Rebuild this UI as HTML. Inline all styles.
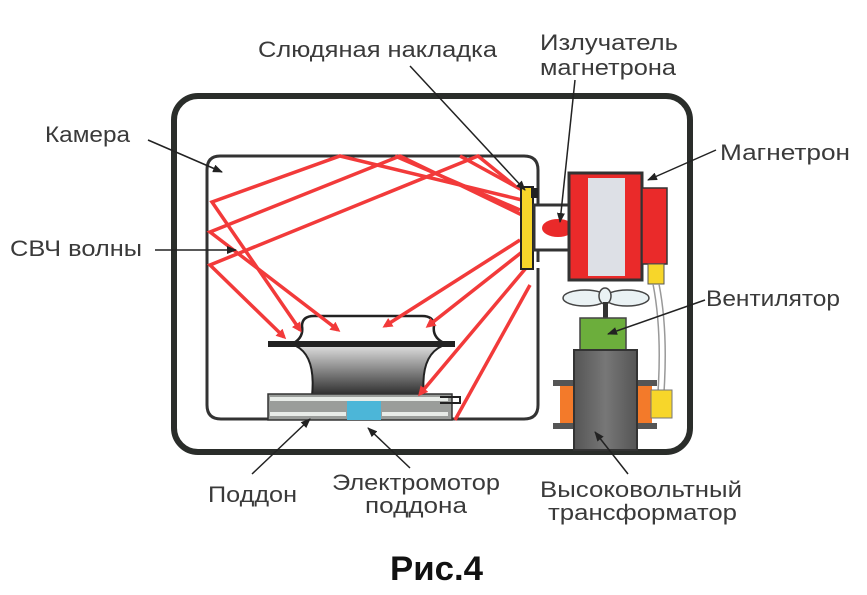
<!DOCTYPE html>
<html><head><meta charset="utf-8"><style>
html,body{margin:0;padding:0;background:#fff;}
svg{display:block}
text{font-family:"Liberation Sans",sans-serif;fill:#3a3a3a;font-size:22px}
</style></head><body>
<svg width="867" height="595" viewBox="0 0 867 595" xmlns="http://www.w3.org/2000/svg">
<defs>
<marker id="ra" markerWidth="10" markerHeight="10" refX="7" refY="5" orient="auto" markerUnits="userSpaceOnUse"><path d="M0,0 L10,5 L0,10 z" fill="#f23a3a"/></marker>
<marker id="ka" markerWidth="10" markerHeight="8" refX="9" refY="4" orient="auto" markerUnits="userSpaceOnUse"><path d="M0,0 L10,4 L0,8 z" fill="#222"/></marker>
<linearGradient id="gb" x1="0" y1="0" x2="0" y2="1"><stop offset="0" stop-color="#dcdcdc"/><stop offset="1" stop-color="#2a2a2a"/></linearGradient>
<linearGradient id="gt" x1="0" y1="0" x2="1" y2="0"><stop offset="0" stop-color="#555"/><stop offset="0.5" stop-color="#777"/><stop offset="1" stop-color="#555"/></linearGradient>
</defs>
<rect x="174" y="96" width="516" height="356" rx="24" fill="none" stroke="#2a2d2a" stroke-width="6"/>
<path d="M538,262 L538,170 Q538,156 524,156 L220,156 Q207,156 207,170 L207,405 Q207,419 221,419 L524,419 Q538,419 538,405 L538,268" fill="none" stroke="#333" stroke-width="3"/>
<!-- turntable -->
<path d="M292,344 Q304,338 302,326 Q302,316 314,316 L422,316 Q434,316 434,326 Q432,338 446,344 Z" fill="#fff" stroke="#222" stroke-width="2.5"/>
<path d="M296,346 Q316,356 312,396 L424,396 Q420,356 442,346 Z" fill="url(#gb)" stroke="#222" stroke-width="2"/>
<rect x="268" y="341" width="187" height="6" fill="#222"/>
<rect x="268" y="394" width="184" height="26" fill="#9a9d9a" stroke="#333" stroke-width="1.5"/>
<rect x="270" y="397" width="178" height="4" fill="#e8ece8"/>
<rect x="270" y="412" width="76" height="4" fill="#e8ece8"/>
<rect x="382" y="412" width="66" height="4" fill="#e8ece8"/>
<rect x="347" y="401" width="34" height="19" fill="#4cb6d8"/>
<path d="M440,397 L460,397 L460,403 L440,403" fill="none" stroke="#222" stroke-width="2"/>
<g stroke="#f23a3a" stroke-width="3.5" fill="none">
<path d="M522,200 L340,156 L212,202 L300,330" marker-end="url(#ra)"/>
<path d="M522,215 L400,156 L210,232 L338,330" marker-end="url(#ra)"/>
<path d="M515,186 L478,156 L210,265 L284,337" marker-end="url(#ra)"/>
<path d="M520,240 L385,326" marker-end="url(#ra)"/>
<path d="M522,252 L428,326" marker-end="url(#ra)"/>
<path d="M526,268 L420,394" marker-end="url(#ra)"/>
<path d="M530,285 L455,420"/>
<path d="M395,156 L520,210"/>
<path d="M460,156 L522,190"/>
</g>
<rect x="521" y="187" width="12" height="82" fill="#f7d62a" stroke="#222" stroke-width="2"/>
<rect x="531" y="188" width="7" height="10" fill="#222"/>
<rect x="534" y="205" width="36" height="45" fill="#fff" stroke="#333" stroke-width="3"/>
<ellipse cx="558" cy="228" rx="16" ry="9" fill="#ea2a2a"/>
<rect x="569" y="173" width="73" height="107" fill="#ea2a2a" stroke="#333" stroke-width="3"/>
<rect x="588" y="178" width="37" height="98" fill="#dde0e6"/>
<rect x="642" y="188" width="25" height="76" fill="#ea2a2a" stroke="#333" stroke-width="1.5"/>
<rect x="648" y="264" width="16" height="20" fill="#f7d62a" stroke="#555" stroke-width="1"/>
<path d="M653,284 Q662,330 658,392 M659,284 Q668,330 664,392" stroke="#999" stroke-width="1.5" fill="none"/>
<ellipse cx="585" cy="298" rx="22" ry="8" fill="#eaf2f4" stroke="#444" stroke-width="1.5"/>
<ellipse cx="627" cy="298" rx="22" ry="8" fill="#eaf2f4" stroke="#444" stroke-width="1.5"/>
<ellipse cx="605" cy="296" rx="6" ry="8" fill="#eaf2f4" stroke="#444" stroke-width="1.5"/>
<rect x="603" y="302" width="5" height="16" fill="#333"/>
<rect x="580" y="318" width="46" height="32" fill="#6cae3c" stroke="#444" stroke-width="1.5"/>
<rect x="553" y="380" width="104" height="6" fill="#555"/>
<rect x="553" y="423" width="104" height="6" fill="#555"/>
<rect x="560" y="386" width="14" height="37" fill="#f37a2a"/>
<rect x="638" y="386" width="14" height="37" fill="#f37a2a"/>
<rect x="574" y="350" width="63" height="100" fill="url(#gt)" stroke="#333" stroke-width="2"/>
<rect x="651" y="390" width="21" height="28" fill="#f7d62a" stroke="#777" stroke-width="1"/>
<g stroke="#222" stroke-width="1.5" fill="none">
<path d="M410,66 L525,190" marker-end="url(#ka)"/>
<path d="M575,80 L560,222" marker-end="url(#ka)"/>
<path d="M716,150 L648,180" marker-end="url(#ka)"/>
<path d="M148,140 L222,172" marker-end="url(#ka)"/>
<path d="M155,250 L236,250" marker-end="url(#ka)"/>
<path d="M705,300 L608,334" marker-end="url(#ka)"/>
<path d="M252,474 L310,419" marker-end="url(#ka)"/>
<path d="M410,468 L368,428" marker-end="url(#ka)"/>
<path d="M628,474 L595,432" marker-end="url(#ka)"/>
</g>
<text x="258" y="57" textLength="239" lengthAdjust="spacingAndGlyphs">Слюдяная накладка</text>
<text x="540" y="50" textLength="138" lengthAdjust="spacingAndGlyphs">Излучатель</text>
<text x="540" y="75" textLength="136" lengthAdjust="spacingAndGlyphs">магнетрона</text>
<text x="45" y="142" textLength="85" lengthAdjust="spacingAndGlyphs">Камера</text>
<text x="720" y="160" textLength="130" lengthAdjust="spacingAndGlyphs">Магнетрон</text>
<text x="10" y="256" textLength="132" lengthAdjust="spacingAndGlyphs">СВЧ волны</text>
<text x="706" y="306" textLength="134" lengthAdjust="spacingAndGlyphs">Вентилятор</text>
<text x="208" y="502" textLength="89" lengthAdjust="spacingAndGlyphs">Поддон</text>
<text x="332" y="490" textLength="168" lengthAdjust="spacingAndGlyphs">Электромотор</text>
<text x="365" y="513" textLength="102" lengthAdjust="spacingAndGlyphs">поддона</text>
<text x="540" y="497" textLength="202" lengthAdjust="spacingAndGlyphs">Высоковольтный</text>
<text x="548" y="520" textLength="189" lengthAdjust="spacingAndGlyphs">трансформатор</text>
<text x="390" y="580" textLength="93" lengthAdjust="spacingAndGlyphs" style="font-size:34px;font-weight:bold;fill:#111">Рис.4</text>
</svg>
</body></html>
